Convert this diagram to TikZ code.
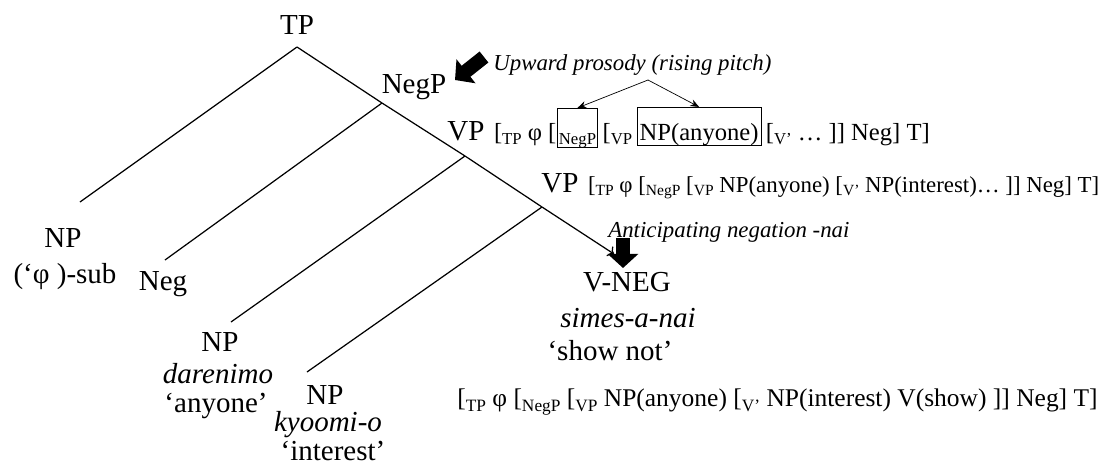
\documentclass[tikz,border=0pt]{standalone}
\usepackage{fontspec}
\setmainfont{Liberation Serif}
\usepackage{graphicx}
\usetikzlibrary{arrows.meta}
\usetikzlibrary{positioning}

\newcommand{\brsub}[1]{\raisebox{-0.35ex}{\scalebox{0.68}{#1}}}

\begin{document}
\begin{tikzpicture}[x=0.2mm, y=-0.2mm,
  cat/.style={font=\fontsize{16.5}{18}\selectfont, inner sep=0pt},
  word/.style={font=\fontsize{16.5}{18}\selectfont\itshape, inner sep=0pt},
  note/.style={font=\fontsize{13}{15}\selectfont\itshape, inner sep=0pt, anchor=west},
  brk/.style={font=\fontsize{14}{16}\selectfont, inner sep=0pt, anchor=base west},
  brksmall/.style={font=\fontsize{13}{15}\selectfont, inner sep=0pt, anchor=base west},
  branch/.style={line width=0.7pt},
  fat/.style={line width=8pt, -{Triangle[length=8pt, width=17pt]}}]
\useasboundingbox (0,0) rectangle (1115,468);

% spine of the tree
\coordinate (tp) at (297,47);
\coordinate (negp) at (382,103);
\coordinate (vp1) at (465,156);
\coordinate (vp2) at (542,207);
\coordinate (vneg) at (614,254);
% lower ends of the left branches
\coordinate (subj) at (80,202);
\coordinate (neg) at (165,260);
\coordinate (obj) at (231,322);
\coordinate (comp) at (307,372);

\draw[branch, ->] (tp) -- (negp) -- (vp1) -- (vp2) -- (vneg);
\draw[branch] (tp) -- (subj);
\draw[branch] (negp) -- (neg);
\draw[branch] (vp1) -- (obj);
\draw[branch] (vp2) -- (comp);

\node[cat] (tplab) at (297,25) {TP};
\node[cat] (negplab) at (414,87) {NegP};
\node[cat] (vp1lab) at (466,131) {VP};
\node[cat] (vp2lab) at (560,183) {VP};

\node[cat] (np1) at (63,238) {NP};
\node[cat] (np1b) at (65,277) {(‘φ )-sub};
\node[cat] (neglab) at (163,284) {Neg};
\node[cat] (np2) at (220,342) {NP};
\node[word] (np2b) at (218,374) {darenimo};
\node[cat] (np2c) at (216,406) {‘anyone’};
\node[cat] (np3) at (325,395) {NP};
\node[word] (np3b) at (328,425) {kyoomi-o};
\node[cat] (np3c) at (333,451) {‘interest’};

\node[cat] (vneglab) at (627,282) {V-NEG};
\node[word] (vnegb) at (628,318) {simes-a-nai};
\node[cat] (vnegc) at (610,351) {‘show not’};

% bracketings
\node[brk] (l1a) at ([xshift=5pt]vp1lab.base east) {[\brsub{TP} φ [};
\node[brk, draw, inner xsep=1pt, text height=6.4mm, text depth=1.4mm] (negbox) at (l1a.base east) {\brsub{NegP}};
\node[brk] (l1b) at (negbox.base east) {\,[\brsub{VP}\,};
\node[brk, draw, inner xsep=1.5pt, text height=6.6mm, text depth=1mm] (npbox) at (l1b.base east) {NP(anyone)};
\node[brk] (l1c) at (npbox.base east) {\,[\brsub{V'} … ]] Neg] T]};

\node[brksmall] (l2) at ([xshift=5pt]vp2lab.base east) {[\brsub{TP} φ [\brsub{NegP} [\brsub{VP} NP(anyone) [\brsub{V'} NP(interest)… ]] Neg] T]};
\node[brk, font=\fontsize{14.5}{16}\selectfont, anchor=west] (l3) at (457,402) {[\brsub{TP} φ [\brsub{NegP} [\brsub{VP} NP(anyone) [\brsub{V'} NP(interest) V(show) ]] Neg] T]};

% prosody notes
\node[note] (up) at (493,65) {Upward prosody (rising pitch)};
\node[note] (ant) at (608,232) {Anticipating negation -nai};

\coordinate (fork) at (648,80);
\draw[-{Stealth[length=5pt, width=4pt]}] (fork) -- (negbox.north);
\draw[-{Stealth[length=5pt, width=4pt]}] (fork) -- (npbox.north);

\coordinate (upfrom) at (484,57);
\coordinate (upto) at (455,80);
\draw[fat] (upfrom) -- (upto);
\coordinate (antfrom) at (623,238);
\coordinate (antto) at (623,268);
\draw[fat] (antfrom) -- (antto);

\end{tikzpicture}
\end{document}
